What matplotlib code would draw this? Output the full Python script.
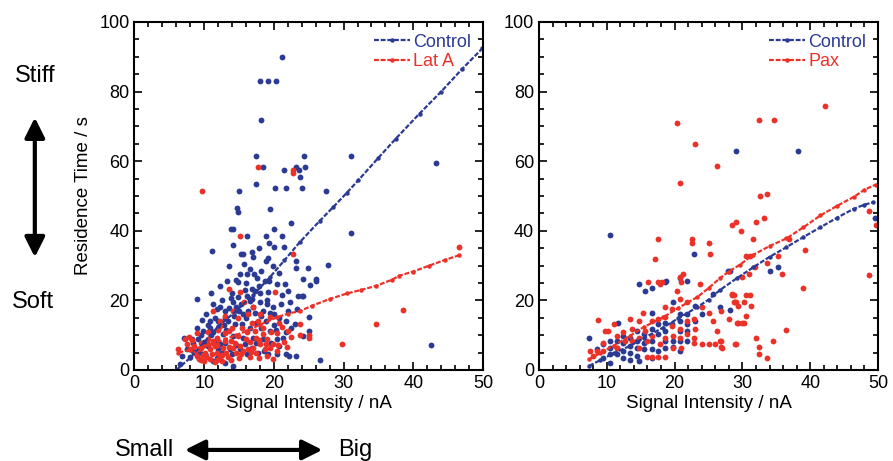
import numpy as np
import matplotlib
matplotlib.use("Agg")
import matplotlib.pyplot as plt
from matplotlib.patches import FancyArrowPatch
from matplotlib.ticker import MultipleLocator

plt.rcParams["font.family"] = ["Liberation Sans", "DejaVu Sans"]

blue = "#2b3a93"
red = "#ec3228"

# Left panel: Control vs Lat A
ctrl_l = [
    (21.2, 90), (18.0, 83), (19.1, 83), (20.3, 83), (18.1, 71.7), (17.5, 61.5), (24.3, 61.5), (31.1, 61.5),
    (18.5, 58.4), (21.4, 57.6), (23.1, 58.4), (23.6, 57.6), (24.5, 58.4), (23.8, 55.6), (17.5, 53.4),
    (20.2, 52.4), (21.7, 52.4), (24.0, 52.4), (15.0, 51.3), (27.5, 51.3), (43.3, 59.5),
    (14.7, 46.5), (14.9, 45.3), (19.5, 46.3), (22.5, 42.3), (13.8, 40.5), (14.1, 40.5), (20.0, 40.5),
    (31.1, 39.5), (16.2, 38.4), (18.9, 38.4), (21.2, 38.4), (11.1, 34.3), (15.3, 33.3), (15.6, 33.3),
    (20.0, 35.4), (21.5, 35.4), (17.0, 32.4), (19.1, 32.2), (18.9, 31.4), (23.1, 31.4), (23.1, 29.3),
    (27.7, 30.3), (24.9, 29.3), (26.1, 26.1), (25.2, 24.4), (24.1, 21.3), (25.1, 15.3), (42.5, 7.3),
    (26.6, 3.0), (9.0, 20.3), (7.1, 9.3), (6.5, 1.8), (14.2, 1.1), (22.1, 4.1), (23.1, 4.1), (21.8, 10.8),
    (24.2, 26.1), (24.2, 21.2),
    (15.2, 27.6), (16.1, 27.6), (17.2, 27.6), (20.8, 28.0), (19.3, 25.6), (18.7, 25.6), (14.9, 25.2),
    (20.5, 24.7), (21.6, 24.7), (26.0, 25.6), (22.0, 22.8), (23.5, 21.3), (16.8, 23.2), (17.3, 22.6),
    (13.8, 20.8), (14.2, 19.4), (16.1, 21.3), (16.5, 19.9), (18.0, 19.4), (19.0, 18.9), (11.8, 17.5),
    (13.0, 17.0), (14.6, 18.0), (15.6, 16.0), (17.3, 16.5), (19.4, 16.5), (21.8, 14.1), (23.0, 13.2),
    (25.1, 11.2), (24.2, 9.8), (10.8, 14.1), (12.0, 14.1), (13.4, 14.1), (14.4, 13.2), (15.4, 13.2),
    (16.6, 12.2), (18.2, 12.2), (19.4, 11.2), (9.9, 11.2), (11.3, 10.8), (12.7, 10.3), (14.2, 9.8),
    (15.6, 9.3), (17.0, 9.3), (18.5, 8.8), (20.4, 8.8), (21.3, 9.3), (8.4, 7.9), (9.1, 8.8), (10.6, 6.9),
    (12.3, 7.4), (8.4, 5.5), (9.4, 5.0), (12.5, 5.0), (14.0, 4.5), (16.1, 4.5), (17.7, 5.0), (19.2, 4.5),
    (20.4, 4.5), (21.8, 4.5), (8.0, 3.6), (11.3, 2.6), (13.7, 6.0), (15.1, 6.0), (16.8, 6.4), (19.6, 7.9),
    (20.8, 6.9), (6.8, 4), (7.5, 6), (8.2, 9), (9, 12), (10, 8), (10.5, 13), (11, 10), (12, 12), (13, 15),
    (12.5, 20), (11, 22), (14, 22), (15, 17), (16, 25), (17, 18), (18, 22), (19, 20), (20, 16), (21, 19),
    (22, 17), (13.5, 30), (16.5, 29), (14.5, 26), (17.8, 35), (12.3, 24), (10.2, 16), (13.2, 11.5),
    (11.8, 8.5), (16, 15), (18.2, 15.5), (20, 13), (22.5, 12), (17.6, 26.5), (19.8, 30),
    (9.5, 10), (10.8, 12), (11.5, 15), (12.2, 18), (12.8, 13), (13.6, 17.8), (14.3, 15.5), (14.8, 21),
    (15.3, 19), (15.8, 23), (16.3, 17), (16.9, 20.5), (17.5, 13.5), (17.9, 24), (18.4, 17), (18.8, 14),
    (19.2, 22.5), (19.8, 18), (20.3, 11.5), (20.7, 14.8), (21.2, 21.5), (22.3, 19.5), (23.3, 17.5),
    (12, 6), (13, 7.8), (14.6, 7.2), (15.9, 7.5), (17.4, 7.7), (18.6, 5.5), (10.3, 4), (11.8, 3.5),
    (13, 2), (9.7, 14.5), (11.3, 19), (13.3, 25.5), (15.7, 30.5), (16.8, 34), (18.2, 28.5), (14.2, 35.8),
    (19.3, 36.5),
]
lata = [
    (9.7, 51.3), (17.7, 58.4), (22.8, 57.6), (22.8, 56.6), (15.1, 38.4), (22.8, 33.3), (20.1, 22.3),
    (46.5, 35.3), (38.5, 17.1), (34.6, 13.2), (29.7, 7.4), (6.3, 6.1), (23.7, 13.2), (23.7, 10.0),
    (25.0, 10.0), (25.0, 9.3), (13.6, 23.2), (15.1, 22.3), (7.2, 8.8), (11.3, 17.0), (12.3, 14.1),
    (13.0, 15.6), (17.0, 18.0), (18.0, 16.0), (19.4, 15.1), (20.8, 13.6), (22.0, 11.2),
    (7.5, 7.4), (8.0, 6.0), (8.7, 5.0), (8.9, 4.0), (9.6, 6.4), (10.1, 5.0), (10.3, 3.6), (10.8, 6.0),
    (11.1, 4.5), (11.5, 6.9), (11.8, 5.0), (12.2, 3.6), (12.7, 6.4), (13.2, 5.0), (13.4, 3.6), (14.2, 6.4),
    (14.6, 5.0), (15.1, 6.9), (15.6, 5.5), (16.3, 6.0), (17.0, 6.4), (17.5, 5.0), (18.0, 7.4), (18.7, 6.0),
    (19.4, 6.4), (19.9, 7.4), (9.6, 7.9), (10.6, 8.8), (11.8, 9.3), (13.0, 8.4), (13.9, 8.4), (14.9, 9.8),
    (16.1, 10.8), (17.3, 11.2), (17.5, 9.3), (18.5, 10.3), (15.4, 12.2), (16.8, 13.6), (17.7, 14.1),
    (18.5, 12.2), (10, 2.5), (11.5, 2.2), (12.5, 2.5), (9.2, 3.2), (13, 10.5), (14, 12), (12, 11.5),
    (19, 9), (20.5, 10.5), (21.5, 8), (16.5, 8), (9, 10.5), (10.5, 11), (8.3, 8.5), (20.4, 5.5), (19, 4),
    (15, 3.5), (16.5, 3.8),
    (7.8, 9.5), (8.5, 7), (9.2, 6), (9.9, 4.3), (10.5, 7.5), (11.2, 8.3), (11.9, 7.3), (12.6, 4.3),
    (13.5, 6.5), (14.4, 7.8), (15.3, 4.5), (16, 9), (16.7, 5.2), (17.8, 8.5), (18.9, 7.6), (19.6, 11),
    (20.6, 7.2), (21.2, 12.3), (22.5, 9.6), (21.9, 6.5), (12.3, 12.7), (13.6, 11.3), (14.8, 14.8),
    (16.3, 16.2), (15.7, 19.5), (14.2, 17), (11.9, 2.8), (9.5, 2.8), (10.8, 3.2), (13.9, 2.8),
    (17.9, 3.5), (19.8, 3.2),
]
ctrl_l_fit_x = [6.0, 8, 10, 12, 14.6, 17, 19.4, 21.5, 23.7, 26.6, 28.5, 30.5, 32.1, 35, 37.5, 40.9, 44, 47, 49.9]
ctrl_l_fit_y = [0, 3.5, 8, 12.5, 17, 21.5, 26.6, 31.5, 36.7, 42.9, 46.8, 51, 54.5, 61, 66.5, 73.7, 80, 86.5, 92.4]
lata_fit_x = [6.3, 8, 10, 11.3, 13, 14.5, 16.1, 18, 20.4, 22, 23.7, 25.5, 28, 30.5, 32.5, 34.7, 37, 38, 40, 42.3, 44.5, 46.6]
lata_fit_y = [5.0, 5.8, 6.8, 7.6, 8.8, 10, 11.2, 13, 15.1, 16.2, 16.9, 18.5, 20.4, 22, 23, 24.2, 26, 27.1, 28.3, 30, 31.6, 33.0]

# Right panel: Control vs Pax
ctrl_r = [
    (7.3, 9.3), (10.5, 2.1), (11.6, 13.6), (10.5, 8.4), (10.5, 6.4), (10.5, 4.5), (11.5, 8.4), (11.5, 6.4),
    (11.5, 4.5), (12.4, 9.8), (12.4, 7.9), (12.4, 5.5), (13.4, 9.3), (13.4, 6.9), (13.4, 5.0), (14.4, 11.2),
    (14.4, 8.4), (14.4, 6.4), (14.4, 4.0), (14.7, 2.6), (15.5, 10.3), (15.5, 7.9), (15.5, 6.0), (16.6, 16.5),
    (16.6, 11.7), (16.6, 8.4), (16.6, 6.0), (17.6, 13.2), (17.6, 10.3), (17.6, 5.5), (18.6, 13.6),
    (18.6, 11.2), (18.6, 8.4), (18.6, 6.4), (19.6, 13.2), (19.7, 8.4), (20.8, 16.0), (20.8, 14.1),
    (20.8, 11.2), (20.8, 8.4), (20.8, 5.5), (21.8, 16.0), (21.8, 13.2), (21.8, 11.2), (21.8, 8.4),
    (14.7, 24.7), (15.6, 22.8), (18.8, 25.5), (21.8, 25.5), (22.8, 33.3), (19.8, 19.4), (23.0, 18.4),
    (25.7, 21.8), (26.7, 18.0), (27.9, 28.5), (10.5, 38.7), (29.1, 62.8), (38.2, 62.8), (28.1, 28.5),
    (34.1, 28.5), (35.2, 29.7), (28.1, 17.3), (49.5, 43.6), (16.7, 23.5), (18.6, 25.4), (20.8, 26.4),
    (8.5, 6), (9.5, 3.5), (9.5, 7.5), (12.4, 3.5), (13.4, 3), (16.6, 3.5), (19.7, 6.5), (23, 14), (24, 16),
]
pax = [
    (8.7, 14.4), (7.5, 5.5), (9.7, 11.2), (10.2, 11.2), (9.5, 7.9), (9.5, 5.5), (11.0, 13.2), (11.5, 9.8),
    (11.5, 6.4), (12.4, 10.8), (12.7, 8.4), (13.4, 14.6), (13.7, 11.7), (13.7, 8.4), (14.7, 14.1),
    (14.7, 9.3), (14.7, 6.4), (15.6, 11.2), (15.4, 16.5), (15.9, 8.4), (15.9, 3.6), (16.6, 3.6),
    (17.6, 3.6), (18.6, 3.6), (16.6, 14.1), (16.6, 9.8), (17.6, 14.6), (17.8, 7.4), (18.6, 18.0),
    (18.6, 15.1), (18.6, 9.3), (19.6, 17.5), (19.6, 12.7), (19.8, 9.8), (19.8, 6.4), (20.3, 22.8),
    (20.8, 20.4), (20.8, 11.7), (20.8, 9.3), (21.0, 6.4), (21.8, 19.4), (21.8, 14.1), (21.8, 10.3),
    (22.8, 14.6), (23.0, 11.7), (22.8, 9.3), (22.8, 7.9), (24.0, 7.4), (25.0, 7.4), (26.0, 7.4),
    (24.0, 18.0), (25.0, 16.5), (25.7, 14.1), (26.2, 11.2), (26.7, 8.4), (27.0, 6.4), (28.4, 21.8),
    (28.9, 19.4), (29.2, 13.6), (28.9, 7.4), (16.1, 25.2), (17.6, 25.2), (17.8, 24.7), (18.1, 25.2),
    (17.1, 31.9), (20.8, 26.6), (21.0, 25.2), (21.3, 27.6), (25.2, 33.3), (8.5, 5.5), (8.0, 4.0),
    (42.2, 75.8), (32.4, 71.9), (34.6, 71.9), (32.6, 49.9), (33.7, 50.6), (28.5, 41.8), (29.1, 42.5),
    (32.0, 42.5), (33.2, 43.6), (29.8, 39.8), (31.5, 37.7), (30.5, 32.7), (31.1, 32.7), (31.8, 29.7),
    (33.7, 30.7), (35.3, 32.7), (35.8, 27.6), (29.9, 26.6), (31.0, 27.6), (36.8, 37.7), (39.3, 34.5),
    (48.6, 45.8), (49.7, 41.8), (48.6, 27.4), (39.0, 23.7), (28.4, 21.6), (28.8, 21.6), (30.6, 21.6),
    (31.1, 21.6), (28.7, 19.6), (29.1, 19.6), (30.3, 19.6), (29.4, 18.4), (31.2, 18.4), (30.5, 15.6),
    (28.0, 14.6), (29.3, 13.5), (29.9, 13.5), (30.3, 13.5), (26.9, 17.0), (36.5, 11.4), (26.9, 8.4),
    (26.9, 6.6), (29.1, 7.6), (32.0, 9.3), (32.5, 6.6), (34.5, 8.4), (32.5, 4.5), (33.7, 3.4),
    (20.4, 71.0), (23.0, 64.9), (26.2, 58.6), (20.8, 53.7), (17.5, 37.7), (22.5, 37.7), (22.5, 36.5),
    (25.0, 36.5), (23.8, 24.7),
]
ctrl_r_fit_x = [7.4, 9, 11, 13.4, 15.5, 18.3, 20.5, 23.3, 25, 26.7, 29.2, 31.6, 34, 36.5, 39, 41.5, 44, 46.4, 48, 49.3]
ctrl_r_fit_y = [1.2, 2.8, 4.8, 6.9, 9.2, 12.2, 14.8, 18, 20.2, 23, 26.4, 29.5, 32.5, 35.3, 38.2, 41, 43.8, 46.3, 47.5, 48.2]
pax_fit_x = [7.4, 9, 11, 13.4, 15.5, 18.3, 20.5, 23.3, 25, 26.7, 28, 29.6, 31.6, 34, 36.5, 39, 41.5, 44, 46.4, 48, 49.7]
pax_fit_y = [3.1, 4.8, 7, 9.8, 12.4, 15.1, 17.8, 20.9, 23.5, 26.4, 28.3, 30.2, 33.1, 35.6, 37.8, 41, 44.4, 47.2, 49.7, 51.8, 53.3]


def style_axes(ax):
    ax.set_xlim(0, 50)
    ax.set_ylim(0, 100)
    ax.xaxis.set_major_locator(MultipleLocator(10))
    ax.xaxis.set_minor_locator(MultipleLocator(2))
    ax.yaxis.set_major_locator(MultipleLocator(20))
    ax.yaxis.set_minor_locator(MultipleLocator(5))
    ax.tick_params(which="both", direction="in", top=True, right=True, labelsize=13, width=1.2)
    ax.tick_params(which="major", length=6)
    ax.tick_params(which="minor", length=3.5)
    for s in ax.spines.values():
        s.set_linewidth(1.5)
    ax.set_xlabel("Signal Intensity / nA", fontsize=13.5, labelpad=2)


def draw_panel(ax, pts_a, col_a, pts_b, col_b, fit_a, fit_b, lab_a, lab_b):
    xa, ya = zip(*pts_a)
    xb, yb = zip(*pts_b)
    ax.plot(xa, ya, "o", color=col_a, ms=4.2, mec="none")
    ax.plot(xb, yb, "o", color=col_b, ms=4.2, mec="none")
    ax.plot(fit_a[0], fit_a[1], color=col_a, ls=(0, (2.2, 0.8)), lw=1.6, marker="o", ms=2.2, label=lab_a)
    ax.plot(fit_b[0], fit_b[1], color=col_b, ls=(0, (2.2, 0.8)), lw=1.6, marker="o", ms=2.2, label=lab_b)
    leg = ax.legend(loc="upper right", frameon=False, fontsize=13, numpoints=1, handlelength=2.0,
                    handletextpad=0.2, labelspacing=0.15, borderaxespad=0.55, borderpad=0.1)
    for txt, c in zip(leg.get_texts(), [col_a, col_b]):
        txt.set_color(c)
    style_axes(ax)


fig = plt.figure(figsize=(8.93, 4.61), dpi=100)
ax1 = fig.add_axes([0.1506, 0.1974, 0.3903, 0.7549])
ax2 = fig.add_axes([0.6036, 0.1974, 0.3796, 0.7549])

draw_panel(ax1, ctrl_l, blue, lata, red, (ctrl_l_fit_x, ctrl_l_fit_y), (lata_fit_x, lata_fit_y), "Control", "Lat A")
draw_panel(ax2, ctrl_r, blue, pax, red, (ctrl_r_fit_x, ctrl_r_fit_y), (pax_fit_x, pax_fit_y), "Control", "Pax")
ax1.set_ylabel("Residence Time / s", fontsize=13.5, labelpad=5)

# side annotations
fig.text(0.039, 0.835, "Stiff", fontsize=17, ha="center", va="center")
fig.text(0.037, 0.345, "Soft", fontsize=17, ha="center", va="center")
fig.text(0.162, 0.024, "Small", fontsize=17, ha="center", va="center")
fig.text(0.398, 0.024, "Big", fontsize=17, ha="center", va="center")
for start, end in [((0.039, 0.745), (0.039, 0.442)), ((0.207, 0.024), (0.361, 0.024))]:
    fig.add_artist(FancyArrowPatch(start, end, transform=fig.transFigure,
                                   arrowstyle="<|-|>,head_width=4,head_length=8", color="black",
                                   lw=3, mutation_scale=1.5, shrinkA=0, shrinkB=0))

plt.savefig("out.png", dpi=100)
